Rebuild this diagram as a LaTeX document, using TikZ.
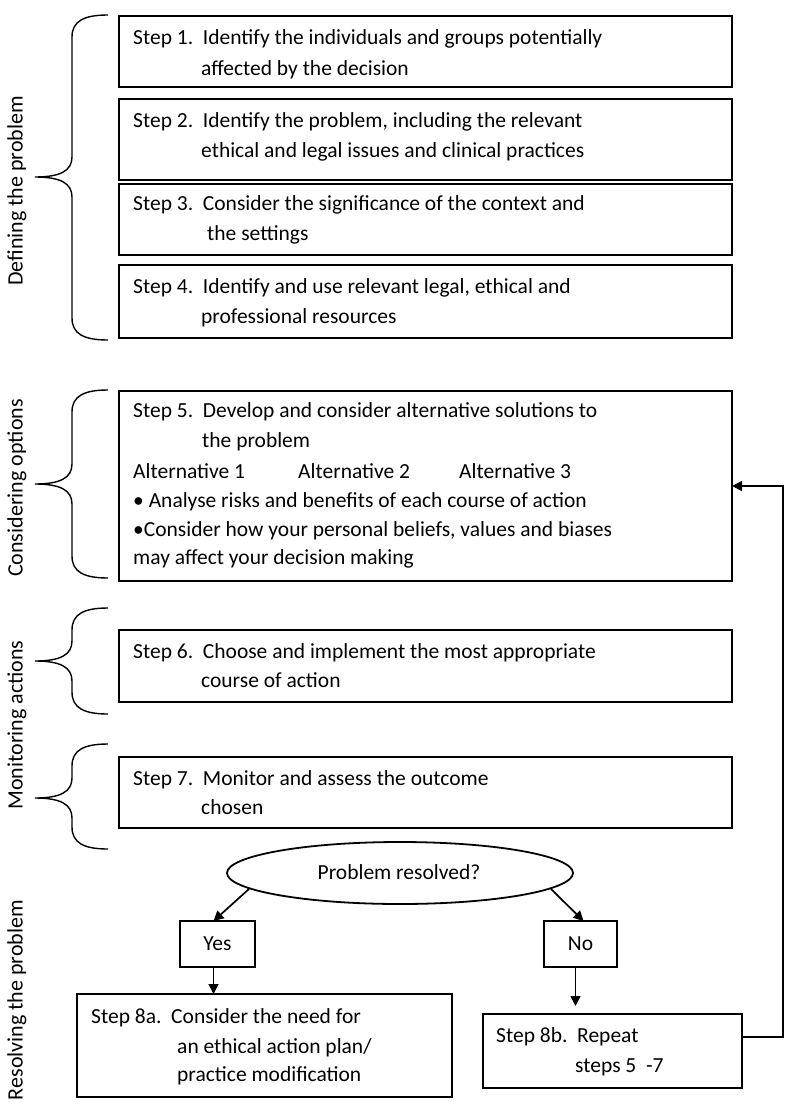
\documentclass[tikz,border=0pt]{standalone}
\usepackage{fontspec}
\setmainfont{Carlito}
\usetikzlibrary{shapes.geometric,arrows.meta}
\newcommand\mybrace[3]{%
  \draw[bracestyle] (108,#1) .. controls (84,#1) and (72,#1+6) .. (72,#1+22) -- (72,#2-20) .. controls (72,#2-6) and (60,#2) .. (35,#2) .. controls (60,#2) and (72,#2+6) .. (72,#2+20) -- (72,#3-22) .. controls (72,#3-6) and (84,#3) .. (108,#3);}
\begin{document}
\begin{tikzpicture}[x=1pt,y=-1pt,
  box/.style={draw, line width=1.8pt, rectangle, inner sep=0pt, outer sep=0pt, anchor=north west},
  txt/.style={anchor=base west, inner sep=0pt, font=\fontsize{21.5}{26}\selectfont},
  ctxt/.style={anchor=base, inner sep=0pt, font=\fontsize{21.5}{26}\selectfont},
  lbl/.style={rotate=90, inner sep=0pt, font=\fontsize{22}{26}\selectfont},
  bracestyle/.style={line width=1.4pt},
  arr/.style={line width=1.7pt, -{Triangle[length=10pt,width=10pt]}}]
\useasboundingbox (0,0) rectangle (796,1116);
% boxes
\node[box, minimum width=613pt, minimum height=71pt] (s1) at (119,16) {};
\node[box, minimum width=613pt, minimum height=81pt] (s2) at (119,99) {};
\node[box, minimum width=613pt, minimum height=71pt] (s3) at (119,184) {};
\node[box, minimum width=613pt, minimum height=73pt] (s4) at (119,265) {};
\node[box, line width=2.3pt, minimum width=613pt, minimum height=190pt] (s5) at (119,391) {};
\node[box, minimum width=613pt, minimum height=72pt] (s6) at (119,630) {};
\node[box, minimum width=613pt, minimum height=71pt] (s7) at (119,757) {};
\node[box, minimum width=75pt, minimum height=46pt] (yes) at (180,921) {};
\node[box, minimum width=73pt, minimum height=46pt] (no) at (544,921) {};
\node[box, minimum width=375pt, minimum height=103pt] (s8a) at (77,994) {};
\node[box, minimum width=259pt, minimum height=74pt] (s8b) at (483,1014) {};
\node[draw, ellipse, line width=1.8pt, minimum width=346pt, minimum height=62pt, inner sep=0pt] (ell) at (400,873) {};
% texts
\node[txt] (t1a) at (133,45) {Step 1.\ \ Identify the individuals and groups potentially};
\node[txt] (t1b) at (201,75) {affected by the decision};
\node[txt] (t2a) at (133,127) {Step 2.\ \ Identify the problem, including the relevant};
\node[txt] (t2b) at (201,157) {ethical and legal issues and clinical practices};
\node[txt] (t3a) at (133,210) {Step 3.\ \ Consider the significance of the context and};
\node[txt] (t3b) at (207,240) {the settings};
\node[txt] (t4a) at (133,293) {Step 4.\ \ Identify and use relevant legal, ethical and};
\node[txt] (t4b) at (201,323) {professional resources};
\node[txt] (t5a) at (133,417) {Step 5.\ \ Develop and consider alternative solutions to};
\node[txt] (t5b) at (202,447) {the problem};
\node[txt] (t5c) at (133,478) {Alternative 1};
\node[txt] (t5d) at (298,478) {Alternative 2};
\node[txt] (t5e) at (459,478) {Alternative 3};
\node[txt] (t5f) at (133,507) {•\ Analyse risks and benefits of each course of action};
\node[txt] (t5g) at (133,536) {•Consider how your personal beliefs, values and biases};
\node[txt] (t5h) at (133,564) {may affect your decision making};
\node[txt] (t6a) at (133,658) {Step 6.\ \ Choose and implement the most appropriate};
\node[txt] (t6b) at (201,687) {course of action};
\node[txt] (t7a) at (133,785) {Step 7.\ \ Monitor and assess the outcome};
\node[txt] (t7b) at (201,814) {chosen};
\node[ctxt] (tq) at (399,879) {Problem resolved?};
\node[ctxt] (tyes) at (217.5,950) {Yes};
\node[ctxt] (tno) at (580.5,950) {No};
\node[txt] (t8a1) at (91,1023) {Step 8a.\ \ Consider the need for};
\node[txt] (t8a2) at (177,1053) {an ethical action plan/};
\node[txt] (t8a3) at (177,1081) {practice modification};
\node[txt] (t8b1) at (496,1042) {Step 8b.\ \ Repeat};
\node[txt] (t8b2) at (575,1072) {steps 5\ \ -7};
% side labels
\node[lbl] (l1) at (17,191) {Defining the problem};
\node[lbl] (l2) at (17,488) {Considering options};
\node[lbl] (l3) at (17,725) {Monitoring actions};
\node[lbl] (l4) at (17,1000) {Resolving the problem};
% braces
\mybrace{15}{177}{340}
\mybrace{390}{484}{578}
\mybrace{608}{661}{714}
\mybrace{744}{798}{849}
% connectors
\draw[arr] (ell.186) -- ([xshift=-4pt]yes.north);
\draw[arr] (ell.-6) -- ([xshift=3pt]no.north);
\draw[arr] ([xshift=-4pt]yes.south) -- ([xshift=-4pt]yes.south |- s8a.north);
\draw[arr, shorten >=8pt] ([xshift=-5pt]no.south) -- ([xshift=-5pt]no.south |- s8b.north);
\draw[arr] ([yshift=14pt]s8b.east) -- ++(41,0) |- (s5.east);
\end{tikzpicture}
\end{document}
